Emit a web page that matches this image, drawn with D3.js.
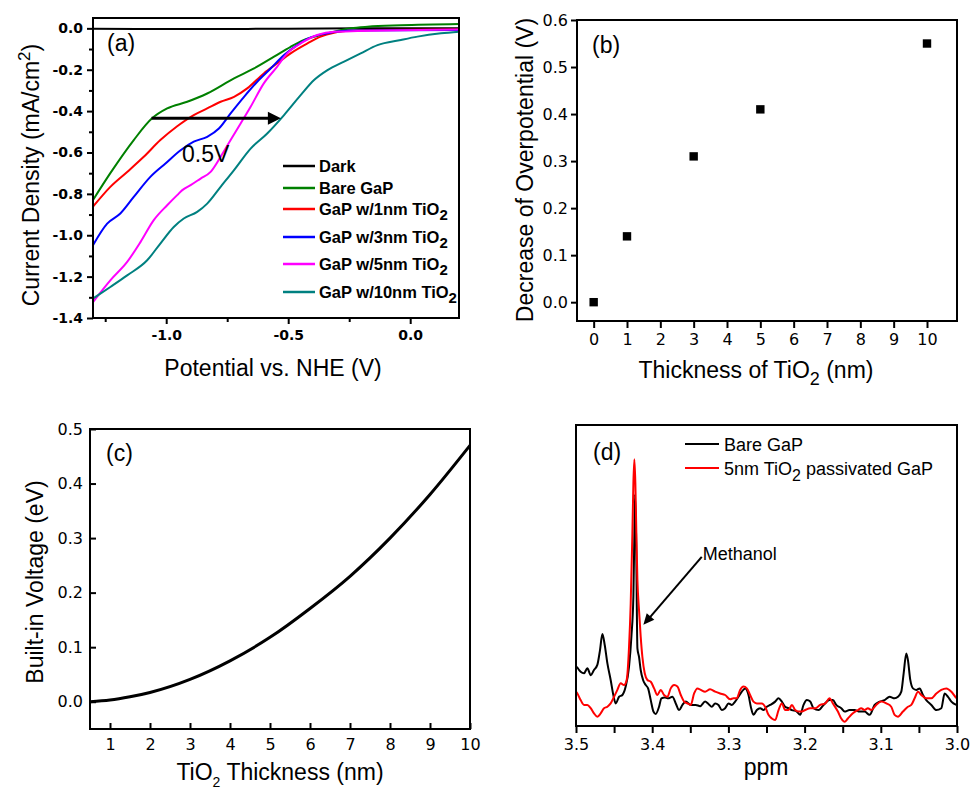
<!DOCTYPE html>
<html>
<head>
<meta charset="utf-8">
<script src="https://cdn.jsdelivr.net/npm/d3@7"></script>
<style>
  body { margin: 0; background: #fff; }
  svg text { font-family: "Liberation Sans", Arial, sans-serif; fill: #000; }
  .tk text { font-family: "DejaVu Sans", sans-serif; font-size: 16px; }
  .tkb text { font-family: "DejaVu Sans", sans-serif; font-size: 14px; font-weight: bold; }
  .title { font-size: 23px; }
</style>
</head>
<body>
<div id="container"></div>
<script>
// ---------- panel (a): current density vs potential ----------
var aYTicks = [-1.4, -1.2, -1.0, -0.8, -0.6, -0.4, -0.2, 0.0];
var aYMinor = [-1.3, -1.1, -0.9, -0.7, -0.5, -0.3, -0.1];
var aXTicks = [-1.0, -0.5, 0.0];
var aXMinor = [-1.25, -0.75, -0.25];

var darkCurve = [[-1.3,-0.002],[-0.9,-0.003],[-0.5,-0.002],[-0.2,0.0],[0.2,0.001]];
var bareGaP = [[-1.30,-0.83],[-1.229,-0.70],[-1.133,-0.54],[-1.058,-0.435],[-0.996,-0.387],[-0.914,-0.355],
  [-0.832,-0.315],[-0.722,-0.242],[-0.640,-0.194],[-0.558,-0.137],[-0.490,-0.089],[-0.435,-0.056],
  [-0.367,-0.032],[-0.312,-0.016],[-0.244,0.0],[-0.175,0.008],[-0.038,0.015],[0.20,0.021]];
var tio1nm = [[-1.30,-0.862],[-1.229,-0.766],[-1.160,-0.694],[-1.092,-0.621],[-1.024,-0.540],[-0.955,-0.473],
  [-0.887,-0.419],[-0.832,-0.387],[-0.777,-0.355],[-0.722,-0.331],[-0.668,-0.290],[-0.600,-0.218],
  [-0.545,-0.169],[-0.490,-0.121],[-0.421,-0.073],[-0.367,-0.040],[-0.312,-0.021],[-0.244,-0.011],
  [-0.175,-0.008],[0.20,-0.005]];
var tio3nm = [[-1.30,-1.048],[-1.242,-0.944],[-1.188,-0.895],[-1.133,-0.815],[-1.065,-0.718],[-1.003,-0.653],
  [-0.941,-0.589],[-0.887,-0.548],[-0.832,-0.524],[-0.784,-0.484],[-0.736,-0.411],[-0.681,-0.331],
  [-0.627,-0.258],[-0.572,-0.194],[-0.517,-0.129],[-0.463,-0.081],[-0.408,-0.044],[-0.339,-0.024],
  [-0.244,-0.011],[0.20,-0.008]];
var tio5nm = [[-1.30,-1.323],[-1.229,-1.218],[-1.160,-1.129],[-1.105,-1.032],[-1.051,-0.927],[-0.996,-0.855],
  [-0.955,-0.806],[-0.934,-0.782],[-0.900,-0.758],[-0.859,-0.726],[-0.818,-0.694],[-0.777,-0.621],
  [-0.736,-0.540],[-0.695,-0.460],[-0.654,-0.379],[-0.600,-0.266],[-0.545,-0.185],[-0.504,-0.121],
  [-0.449,-0.073],[-0.381,-0.032],[-0.312,-0.016],[0.20,-0.005]];
var tio10nm = [[-1.30,-1.306],[-1.229,-1.25],[-1.160,-1.194],[-1.078,-1.121],[-1.024,-1.040],[-0.969,-0.960],
  [-0.928,-0.919],[-0.873,-0.887],[-0.832,-0.847],[-0.777,-0.766],[-0.722,-0.685],[-0.654,-0.581],
  [-0.586,-0.508],[-0.517,-0.419],[-0.449,-0.323],[-0.394,-0.250],[-0.339,-0.202],[-0.271,-0.161],
  [-0.203,-0.121],[-0.134,-0.081],[-0.038,-0.056],[0.030,-0.040],[0.126,-0.024],[0.20,-0.016]];

var aSeries = [
  {name: "Dark", sub: "", color: "#000000", data: darkCurve},
  {name: "Bare GaP", sub: "", color: "#008000", data: bareGaP},
  {name: "GaP w/1nm TiO", sub: "2", color: "#ff0000", data: tio1nm},
  {name: "GaP w/3nm TiO", sub: "2", color: "#0000ff", data: tio3nm},
  {name: "GaP w/5nm TiO", sub: "2", color: "#ff00ff", data: tio5nm},
  {name: "GaP w/10nm TiO", sub: "2", color: "#008080", data: tio10nm}
];
// the 0.5V shift arrow, in data units
var arrowA = {y: -0.435, x0: -1.06, x1: -0.53, label: "0.5V", lx: -0.935, ly: -0.646};

// ---------- panel (b): overpotential decrease ----------
var bThickness = [0, 1, 3, 5, 10];
var bDecrease = [0.0, 0.14, 0.31, 0.41, 0.55];
var bXTicks = [0, 1, 2, 3, 4, 5, 6, 7, 8, 9, 10];
var bYTicks = [0.0, 0.1, 0.2, 0.3, 0.4, 0.5, 0.6];

// ---------- panel (c): built-in voltage ----------
var cThickness = [0.5, 1, 1.5, 2, 3, 4, 5, 6, 7, 8, 9, 10];
var cVoltage = [0.0, 0.003, 0.009, 0.017, 0.041, 0.075, 0.118, 0.171, 0.230, 0.300, 0.380, 0.470];
var cXTicks = [1, 2, 3, 4, 5, 6, 7, 8, 9, 10];
var cYTicks = [0.0, 0.1, 0.2, 0.3, 0.4, 0.5];

// ---------- panel (d): NMR spectra ----------
var dXTicks = [3.5, 3.45, 3.4, 3.35, 3.3, 3.25, 3.2, 3.15, 3.1, 3.05, 3.0];
var bareNMR = [[3.499,19.7],[3.4939,18.0],[3.4895,17.5],[3.4851,19.2],[3.4807,16.9],[3.4764,18.6],[3.4720,20.3],
  [3.4685,25.2],[3.4654,30.6],[3.4623,26.9],[3.4588,20.8],[3.4545,15.3],[3.4510,10.3],[3.4479,7.5],
  [3.4435,9.7],[3.4391,10.3],[3.4348,13.1],[3.4304,19.7],[3.4273,29.7],[3.4247,43.0],[3.4234,64.0],
  [3.4225,76.9],[3.4212,64.0],[3.4194,25.8],[3.4173,23.0],[3.4151,18.6],[3.4120,15.3],[3.4085,13.6],
  [3.4054,12.5],[3.4019,8.6],[3.3984,4.8],[3.3954,4.0],[3.3910,6.4],[3.3879,9.2],[3.3835,9.5],
  [3.3792,9.2],[3.3735,9.7],[3.3691,7.5],[3.3647,5.3],[3.3603,7.0],[3.3560,8.1],[3.3494,7.0],
  [3.3428,7.0],[3.3371,6.6],[3.3306,8.1],[3.3262,7.3],[3.3218,6.4],[3.3174,7.5],[3.3130,7.0],
  [3.3087,5.3],[3.3043,5.9],[3.2999,7.5],[3.2955,7.0],[3.2912,8.1],[3.2868,9.7],[3.2824,11.4],
  [3.2780,12.5],[3.2736,10.3],[3.2706,6.4],[3.2671,3.7],[3.2627,5.3],[3.2583,5.9],[3.2539,5.3],
  [3.2496,6.4],[3.2452,7.0],[3.2386,8.1],[3.2342,9.2],[3.2299,8.1],[3.2255,6.4],[3.2211,5.9],
  [3.2167,5.3],[3.2102,4.8],[3.2058,3.7],[3.2014,7.0],[3.1970,8.6],[3.1926,8.1],[3.1883,5.9],
  [3.1817,5.3],[3.1751,7.0],[3.1673,8.6],[3.1629,8.6],[3.1585,7.0],[3.1519,5.9],[3.1475,4.8],
  [3.1410,5.3],[3.1344,5.3],[3.1278,4.8],[3.1213,4.8],[3.1147,3.7],[3.1081,7.0],[3.1016,8.1],
  [3.0950,8.6],[3.0884,9.7],[3.0819,9.2],[3.0775,9.7],[3.0731,11.4],[3.0700,17.5],[3.0665,24.1],
  [3.0644,21.9],[3.0613,15.3],[3.0578,12.5],[3.0534,12.0],[3.0490,12.5],[3.0447,10.3],[3.0403,8.6],
  [3.0337,7.0],[3.0271,5.3],[3.0206,5.9],[3.0162,10.8],[3.0118,9.7],[3.0074,8.1],[3.0009,7.0]];
var tio5NMR = [[3.5,11.4],[3.4982,10.8],[3.4939,8.6],[3.4895,7.0],[3.4851,7.0],[3.4807,5.9],[3.4764,4.2],
  [3.4720,3.1],[3.4676,4.2],[3.4632,5.9],[3.4588,6.4],[3.4545,7.5],[3.4501,9.7],[3.4457,12.0],
  [3.4413,14.2],[3.4370,13.6],[3.4335,15.3],[3.4304,26.3],[3.4282,40.7],[3.4260,64.0],[3.4247,80.6],
  [3.4234,88.6],[3.4221,80.6],[3.4208,64.0],[3.4194,48.5],[3.4173,38.5],[3.4151,29.7],[3.4129,23.0],
  [3.4098,17.5],[3.4063,15.3],[3.4019,14.7],[3.3975,12.5],[3.3932,10.3],[3.3888,12.0],[3.3844,10.3],
  [3.3800,9.7],[3.3757,12.5],[3.3713,13.6],[3.3669,13.1],[3.3625,10.3],[3.3581,8.1],[3.3538,7.5],
  [3.3494,7.0],[3.3450,10.8],[3.3406,12.5],[3.3363,12.0],[3.3306,11.4],[3.3240,12.2],[3.3174,11.4],
  [3.3109,10.8],[3.3043,10.3],[3.2977,8.9],[3.2933,9.2],[3.2890,9.2],[3.2846,12.0],[3.2802,13.1],
  [3.2758,12.5],[3.2715,10.3],[3.2671,8.1],[3.2627,7.5],[3.2561,7.5],[3.2518,6.4],[3.2474,3.7],
  [3.2430,2.5],[3.2386,2.0],[3.2342,5.3],[3.2299,7.5],[3.2255,5.3],[3.2211,5.3],[3.2167,7.0],
  [3.2123,5.3],[3.2080,4.8],[3.2036,4.8],[3.1992,5.3],[3.1926,5.9],[3.1861,5.9],[3.1795,7.0],
  [3.1729,7.5],[3.1673,9.2],[3.1629,7.5],[3.1563,4.8],[3.1519,2.5],[3.1475,1.4],[3.1432,2.5],
  [3.1366,4.2],[3.1300,5.3],[3.1257,5.9],[3.1213,5.3],[3.1169,5.9],[3.1125,5.3],[3.1060,7.0],
  [3.0994,8.1],[3.0928,7.5],[3.0863,6.4],[3.0819,3.7],[3.0775,3.1],[3.0709,4.8],[3.0644,6.4],
  [3.0600,7.0],[3.0556,9.2],[3.0512,11.4],[3.0469,10.3],[3.0403,9.2],[3.0337,9.2],[3.0271,10.8],
  [3.0206,12.0],[3.0140,12.5],[3.0074,11.4],[3.0009,9.2]];
var dSeries = [
  {name: "Bare GaP", color: "#000000", data: bareNMR},
  {name: "5nm TiO", sub: "2", rest: " passivated GaP", color: "#ff0000", data: tio5NMR}
];
var methanolArrow = {x0: 3.335, y0: 56.2, x1: 3.4116, y1: 33.6, label: "Methanol"};

// ---------- drawing ----------
var width = 970, height = 790;
var svg = d3.select("#container").append("svg")
  .attr("width", width).attr("height", height);

function addAxis(g, gen, cls, tx, ty) {
  var a = g.append("g").attr("class", cls)
    .attr("transform", "translate(" + tx + "," + ty + ")").call(gen);
  a.select(".domain").remove();
  a.selectAll("line").attr("stroke", "#000").attr("stroke-width", 2);
  a.selectAll("text").attr("fill", "#000");
  return a;
}

function frame(box, id) {
  svg.append("clipPath").attr("id", id).append("rect")
    .attr("x", box.l).attr("y", box.t).attr("width", box.r - box.l).attr("height", box.b - box.t);
}

function drawFrame(box) {
  svg.append("rect").attr("x", box.l).attr("y", box.t)
    .attr("width", box.r - box.l).attr("height", box.b - box.t)
    .attr("fill", "none").attr("stroke", "#000").attr("stroke-width", 2);
}

function arrowHead(x1, y1, x0, y0, len, half) {
  var ang = Math.atan2(y1 - y0, x1 - x0);
  var bx = x1 - len * Math.cos(ang), by = y1 - len * Math.sin(ang);
  var px = -Math.sin(ang) * half, py = Math.cos(ang) * half;
  return "M" + x1 + "," + y1 + "L" + (bx + px) + "," + (by + py) + "L" + (bx - px) + "," + (by - py) + "Z";
}

var fmt1 = function(d) { return (Math.abs(d) < 1e-9 ? 0 : d).toFixed(1); };

// ===== panel (a) =====
var boxA = {l: 93, t: 18, r: 459, b: 318};
var xA = d3.scaleLinear().domain([-1.3, 0.2]).range([boxA.l, boxA.r]);
var yA = d3.scaleLinear().domain([-1.4, 0.05]).range([boxA.b, boxA.t]);
frame(boxA, "clipA");

addAxis(svg, d3.axisLeft(yA).tickValues(aYTicks).tickSize(6).tickPadding(4).tickFormat(fmt1), "tkb", boxA.l, 0);
addAxis(svg, d3.axisLeft(yA).tickValues(aYMinor).tickSize(4).tickFormat(""), "tkb", boxA.l, 0);
addAxis(svg, d3.axisBottom(xA).tickValues(aXTicks).tickSize(6).tickPadding(6).tickFormat(fmt1), "tkb", 0, boxA.b);
addAxis(svg, d3.axisBottom(xA).tickValues(aXMinor).tickSize(4).tickFormat(""), "tkb", 0, boxA.b);

var lineA = d3.line().x(function(d) { return xA(d[0]); }).y(function(d) { return yA(d[1]); })
  .curve(d3.curveMonotoneX);
var gA = svg.append("g").attr("clip-path", "url(#clipA)");
gA.selectAll("path.curve").data(aSeries).enter().append("path")
  .attr("class", "curve")
  .attr("d", function(s) { return lineA(s.data); })
  .attr("fill", "none").attr("stroke", function(s) { return s.color; }).attr("stroke-width", 2);

// shift arrow
var ay = yA(arrowA.y);
svg.append("line").attr("x1", xA(arrowA.x0)).attr("x2", xA(arrowA.x1) - 10)
  .attr("y1", ay).attr("y2", ay).attr("stroke", "#000").attr("stroke-width", 3);
svg.append("path").attr("d", arrowHead(xA(arrowA.x1), ay, xA(arrowA.x0), ay, 13, 6.5)).attr("fill", "#000");
svg.append("text").attr("x", xA(arrowA.lx)).attr("y", yA(arrowA.ly))
  .attr("font-size", "23px").text(arrowA.label);

// legend (a)
var aLegRows = [166, 188, 209, 237, 264, 292];
var legA = svg.append("g");
aSeries.forEach(function(s, i) {
  legA.append("line").attr("x1", 283).attr("x2", 315).attr("y1", aLegRows[i]).attr("y2", aLegRows[i])
    .attr("stroke", s.color).attr("stroke-width", 2.5);
  var t = legA.append("text").attr("x", 319).attr("y", aLegRows[i] + 6)
    .attr("font-family", "DejaVu Sans").attr("font-weight", "bold").attr("font-size", "16.5px")
    .attr("fill", s.color).text(s.name);
  if (s.sub) t.append("tspan").attr("dy", 5).attr("font-size", "15px").text(s.sub);
});

svg.append("text").attr("x", 107).attr("y", 51).attr("class", "title").text("(a)");
svg.append("text").attr("x", 273).attr("y", 376).attr("class", "title")
  .attr("text-anchor", "middle").text("Potential vs. NHE (V)");
var ta = svg.append("text").attr("class", "title").attr("text-anchor", "middle")
  .attr("transform", "translate(39,175) rotate(-90)").text("Current Density (mA/cm");
ta.append("tspan").attr("dy", -9).attr("font-size", "17px").text("2");
ta.append("tspan").attr("dy", 9).text(")");

// ===== panel (b) =====
var boxB = {l: 577, t: 20, r: 957, b: 321};
var xB = d3.scaleLinear().domain([-0.5, 10.9]).range([boxB.l, boxB.r]);
var yB = d3.scaleLinear().domain([-0.04, 0.6]).range([boxB.b, boxB.t]);

addAxis(svg, d3.axisLeft(yB).tickValues(bYTicks).tickSize(6).tickPadding(3).tickFormat(fmt1), "tk", boxB.l, 0);
addAxis(svg, d3.axisBottom(xB).tickValues(bXTicks).tickSize(7).tickPadding(6).tickFormat(d3.format("d")), "tk", 0, boxB.b);

svg.append("g").selectAll("rect").data(bThickness).enter().append("rect")
  .attr("x", function(d) { return xB(d) - 4.2; })
  .attr("y", function(d, i) { return yB(bDecrease[i]) - 4.2; })
  .attr("width", 8.4).attr("height", 8.4).attr("fill", "#000");
drawFrame(boxB);

svg.append("text").attr("x", 592).attr("y", 53).attr("class", "title").text("(b)");
var tbx = svg.append("text").attr("x", 756).attr("y", 378).attr("class", "title")
  .attr("text-anchor", "middle").text("Thickness of TiO");
tbx.append("tspan").attr("dy", 7).attr("font-size", "18px").text("2");
tbx.append("tspan").attr("dy", -7).text(" (nm)");
svg.append("text").attr("class", "title").attr("text-anchor", "middle")
  .attr("transform", "translate(533,170) rotate(-90)").text("Decrease of Overpotential (V)");

// ===== panel (c) =====
var boxC = {l: 90, t: 429, r: 470, b: 729};
var xC = d3.scaleLinear().domain([0.5, 10]).range([boxC.l, boxC.r]);
var yC = d3.scaleLinear().domain([-0.05, 0.5]).range([boxC.b, boxC.t]);
frame(boxC, "clipC");

addAxis(svg, d3.axisLeft(yC).tickValues(cYTicks).tickSizeInner(-6).tickSizeOuter(0).tickPadding(7).tickFormat(fmt1), "tk", boxC.l, 0);
addAxis(svg, d3.axisBottom(xC).tickValues(cXTicks).tickSizeInner(-6).tickSizeOuter(0).tickPadding(10).tickFormat(d3.format("d")), "tk", 0, boxC.b);

var lineC = d3.line().x(function(d) { return xC(d); }).y(function(d, i) { return yC(cVoltage[i]); })
  .curve(d3.curveMonotoneX);
svg.append("path").attr("clip-path", "url(#clipC)").attr("d", lineC(cThickness))
  .attr("fill", "none").attr("stroke", "#000").attr("stroke-width", 3);
drawFrame(boxC);

svg.append("text").attr("x", 106).attr("y", 461).attr("class", "title").text("(c)");
var tcx = svg.append("text").attr("x", 280).attr("y", 780).attr("class", "title")
  .attr("text-anchor", "middle").text("TiO");
tcx.append("tspan").attr("dy", 7).attr("font-size", "14px").text("2");
tcx.append("tspan").attr("dy", -7).text(" Thickness (nm)");
svg.append("text").attr("class", "title").attr("text-anchor", "middle")
  .attr("transform", "translate(43,582) rotate(-90)").text("Built-in Voltage (eV)");

// ===== panel (d) =====
var boxD = {l: 576, t: 425, r: 957, b: 726};
var xD = d3.scaleLinear().domain([3.5, 3.0]).range([boxD.l, boxD.r]);
var yD = d3.scaleLinear().domain([0, 100]).range([boxD.b, boxD.t]);
frame(boxD, "clipD");

addAxis(svg, d3.axisBottom(xD).tickValues(dXTicks).tickSize(7).tickPadding(6)
  .tickFormat(function(d) { return Math.round(d * 100) % 10 === 0 ? d.toFixed(1) : ""; }), "tk", 0, boxD.b);

var lineD = d3.line().x(function(d) { return xD(d[0]); }).y(function(d) { return yD(d[1]); })
  .curve(d3.curveMonotoneX);
var gD = svg.append("g").attr("clip-path", "url(#clipD)");
gD.selectAll("path.spec").data(dSeries).enter().append("path")
  .attr("class", "spec")
  .attr("d", function(s) { return lineD(s.data); })
  .attr("fill", "none").attr("stroke", function(s) { return s.color; }).attr("stroke-width", 2);
drawFrame(boxD);

// legend (d)
var dLegRows = [444, 468];
dSeries.forEach(function(s, i) {
  svg.append("line").attr("x1", 685).attr("x2", 719).attr("y1", dLegRows[i]).attr("y2", dLegRows[i])
    .attr("stroke", s.color).attr("stroke-width", 2);
  var t = svg.append("text").attr("x", 724).attr("y", dLegRows[i] + 6.5).attr("font-size", "18px").text(s.name);
  if (s.sub) {
    t.append("tspan").attr("dy", 6).attr("font-size", "16px").text(s.sub);
    t.append("tspan").attr("dy", -6).text(s.rest);
  }
});

// methanol annotation
var mx0 = xD(methanolArrow.x0), my0 = yD(methanolArrow.y0);
var mx1 = xD(methanolArrow.x1), my1 = yD(methanolArrow.y1);
var mang = Math.atan2(my1 - my0, mx1 - mx0);
svg.append("line").attr("x1", mx0).attr("y1", my0)
  .attr("x2", mx1 - 9 * Math.cos(mang)).attr("y2", my1 - 9 * Math.sin(mang))
  .attr("stroke", "#000").attr("stroke-width", 2);
svg.append("path").attr("d", arrowHead(mx1, my1, mx0, my0, 11, 5)).attr("fill", "#000");
svg.append("text").attr("x", mx0 + 1).attr("y", yD(55)).attr("font-size", "18px").text(methanolArrow.label);

svg.append("text").attr("x", 593).attr("y", 460).attr("class", "title").text("(d)");
svg.append("text").attr("x", 766).attr("y", 775).attr("class", "title")
  .attr("text-anchor", "middle").text("ppm");

// frame (a) last so curves sit under it
drawFrame(boxA);
</script>
</body>
</html>
